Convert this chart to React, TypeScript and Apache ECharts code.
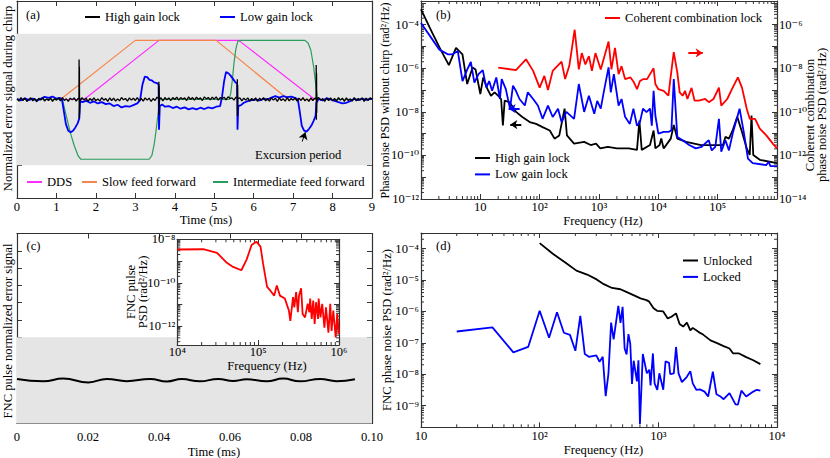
import React, { useEffect, useRef } from "react";
import * as echarts from "echarts";

const FONT = "'Liberation Serif', 'DejaVu Serif', serif";
const FS = 12.6;
const AXIS_COLOR = "#333";

// ---------------- Panel (a): error signal during chirp ----------------
const aTimeRange = [0, 9];
const aValueRange = [-3, 3];
const aBand = [-2, 2];
const aDDS = [[0, 0], [1.7, 0], [3.6, 1.8], [5.62, 1.8], [7.55, 0], [9, 0]];
const aSlowFF = [[0, 0], [1.1, 0], [3.0, 1.8], [5.05, 1.8], [6.88, 0], [9, 0]];
const aInterFF = [
  [0, 0], [1.15, 0], [1.25, -0.5], [1.35, -1.0], [1.45, -1.4], [1.55, -1.72], [1.62, -1.82],
  [3.35, -1.82], [3.42, -1.7], [3.48, -1.35], [3.53, -0.9], [3.58, -0.4], [3.62, 0],
  [5.38, 0], [5.42, 0.2], [5.46, 0.6], [5.5, 1.1], [5.55, 1.55], [5.6, 1.78], [5.65, 1.8],
  [7.3, 1.8], [7.38, 1.72], [7.45, 1.5], [7.52, 1.0], [7.57, 0.5], [7.62, 0], [9, 0],
];
const aHighStep = 0.05;
const aHighNoise = [
  0.02, -0.05, 0.06, -0.03, 0.04, -0.06, 0.01, 0.05, -0.04, 0.03, -0.07, 0.04, -0.02, 0.06, -0.05, 0.02, -0.03, 0.05, -0.06, 0.03,
  -0.02, 0.05, -0.04, 0.06, -0.03, 0.02, -0.06, 0.04, -0.01, 0.05, -0.05, 0.03, -0.04, 0.06, -0.02, 0.04, -0.06, 0.03, -0.03, 0.05,
  -0.04, 0.02, -0.05, 0.06, -0.02, 0.03, -0.06, 0.05, -0.03, 0.04, -0.05, 0.02, -0.04, 0.06, -0.01, 0.03, -0.05, 0.05, -0.02, 0.04,
  -0.03, 0.06, -0.04, 0.03, -0.05, 0.05, -0.02, 0.04, -0.06, 0.03, -0.03, 0.07, -0.02, 0.05, -0.04, 0.06, -0.01, 0.05, -0.03, 0.06,
  0.0, 0.07, -0.02, 0.06, 0.01, 0.05, -0.03, 0.08, 0.0, 0.06, -0.02, 0.07, 0.01, 0.05, -0.03, 0.08, 0.02, 0.06, -0.01, 0.07,
  0.01, 0.08, -0.02, 0.06, 0.02, 0.07, -0.01, 0.08, 0.03, 0.05, -0.02, 0.07, 0.0, 0.05, -0.04, 0.04, -0.02, 0.05, -0.05, 0.03,
  -0.03, 0.05, -0.06, 0.04, -0.02, 0.06, -0.04, 0.03, -0.05, 0.05, -0.02, 0.04, -0.06, 0.05, -0.03, 0.02, -0.05, 0.06, -0.04, 0.03,
  -0.02, 0.05, -0.05, 0.04, -0.03, 0.06, -0.04, 0.02, -0.06, 0.05, -0.03, 0.04, -0.05, 0.06, -0.02, 0.03, -0.06, 0.04, -0.03, 0.05,
  -0.04, 0.03, -0.05, 0.06, -0.02, 0.04, -0.06, 0.05, -0.03, 0.02, -0.05, 0.06, -0.04, 0.03, -0.02, 0.05, -0.06, 0.04, -0.03, 0.05,
  0.02,
];
const aHighSpikes = [
  [1.570, 0.04], [1.574, 1.22], [1.578, -0.58], [1.582, 1.0], [1.586, -0.45], [1.590, 0.05],
  [3.592, 0.03], [3.596, 0.54], [3.600, -0.47], [3.604, 0.4], [3.608, -0.2], [3.612, 0.02],
  [5.582, 0.04], [5.586, 0.62], [5.590, -0.5], [5.594, 0.45], [5.598, -0.3], [5.602, 0.03],
  [7.582, 0.02], [7.586, 1.05], [7.590, -0.62], [7.594, 0.8], [7.598, -0.4], [7.602, 0.01],
];
const aLow = [
  [0.0, 0.02], [0.1, -0.03], [0.2, 0.04], [0.3, -0.02], [0.4, 0.03], [0.5, -0.04], [0.6, 0.02], [0.7, 0.08], [0.8, 0.05], [0.9, 0.09],
  [1.0, 0.03], [1.08, 0.05], [1.14, 0.0], [1.18, -0.3], [1.24, -0.75], [1.3, -0.95], [1.36, -1.0], [1.42, -0.95], [1.48, -0.85], [1.54, -0.72],
  [1.58, -0.57], [1.6, -0.05], [1.66, -0.08], [1.75, -0.04], [1.85, -0.1], [1.95, -0.06], [2.05, -0.12], [2.15, -0.08], [2.25, -0.14], [2.35, -0.12],
  [2.45, -0.2], [2.55, -0.16], [2.65, -0.24], [2.75, -0.2], [2.85, -0.22], [2.95, -0.17], [3.05, -0.12], [3.12, -0.02], [3.18, 0.45], [3.24, 0.7],
  [3.3, 0.68], [3.36, 0.6], [3.42, 0.58], [3.48, 0.52], [3.55, 0.5], [3.59, 0.45], [3.6, -0.92], [3.62, -0.2], [3.68, -0.15], [3.75, -0.22],
  [3.85, -0.2], [3.95, -0.26], [4.05, -0.22], [4.15, -0.28], [4.25, -0.24], [4.35, -0.3], [4.45, -0.26], [4.55, -0.3], [4.65, -0.25], [4.75, -0.29],
  [4.85, -0.24], [4.95, -0.27], [5.05, -0.22], [5.15, -0.2], [5.2, 0.1], [5.25, 0.55], [5.3, 0.84], [5.36, 0.8], [5.42, 0.72], [5.48, 0.62],
  [5.54, 0.52], [5.58, 0.48], [5.59, -0.92], [5.61, -0.2], [5.68, -0.17], [5.75, -0.1], [5.85, -0.05], [5.95, -0.02], [6.05, 0.0], [6.15, -0.03],
  [6.25, 0.02], [6.35, 0.0], [6.45, 0.06], [6.55, 0.1], [6.65, 0.06], [6.75, 0.1], [6.85, 0.07], [6.95, 0.09], [7.05, 0.05], [7.12, 0.0],
  [7.16, -0.3], [7.22, -0.8], [7.28, -0.95], [7.34, -0.98], [7.4, -0.9], [7.46, -0.8], [7.52, -0.65], [7.57, -0.5], [7.59, -0.1], [7.65, 0.02],
  [7.75, -0.03], [7.85, 0.04], [7.95, 0.0], [8.05, -0.04], [8.15, -0.08], [8.25, -0.12], [8.35, -0.1], [8.45, -0.05], [8.55, 0.02], [8.65, -0.02],
  [8.75, 0.03], [8.85, -0.01], [8.95, 0.02], [9.0, 0.01],
];
const aExcursionArrow = [[7.23, -1.28], [7.31, -1.0]];

// ---------------- Panel (b): PSD without chirp ----------------
const bFreqRange = [1, 1e6];
const bLeftRange = [1e-12, 1.23e-3];
const bRightRange = [1e-14, 1.23e-5];
const bHigh = [
  [1, 5.1e-4], [1.55, 4.2e-5], [2.14, 7.2e-6], [2.95, 1.4e-6], [3.89, 8.7e-6], [5.0, 4.4e-6], [6.0, 1.9e-7], [7.4, 1.1e-6],
  [8.3, 8.9e-7], [10, 6.6e-8], [11.2, 3.8e-7], [13.2, 1.1e-7], [15.1, 5.5e-8], [17.4, 7.9e-8], [20, 5.5e-8], [22.4, 3.9e-8],
  [24, 2.4e-9], [25.7, 3.3e-8], [31, 2.8e-8], [40, 1.0e-8], [51, 5.8e-9], [68, 3.4e-9], [87, 2.8e-9], [112, 2.0e-9],
  [148, 1.4e-9], [178, 5.9e-10], [214, 8.3e-10], [263, 1.4e-8], [288, 8.3e-10], [380, 3.5e-10], [562, 4.2e-10], [724, 3.0e-10],
  [891, 3.5e-10], [1050, 2.1e-10], [1410, 2.5e-10], [2000, 2.1e-10], [3160, 2.1e-10], [4370, 1.8e-10], [4790, 4.0e-9], [5250, 1.8e-10],
  [7240, 3.0e-10], [8320, 1.4e-9], [8910, 2.1e-10], [10500, 3.0e-10], [11200, 6.0e-10], [12300, 2.1e-10], [14800, 4.2e-10], [16200, 5.9e-10],
  [18200, 2.5e-9], [20900, 5.9e-10], [29500, 4.2e-10], [52500, 3.0e-10], [89100, 3.0e-10], [123000, 3.0e-10], [135000, 7.1e-10], [155000, 5.9e-10],
  [180000, 1.5e-9], [214000, 5.9e-9], [257000, 1.2e-9], [309000, 2.1e-10], [347000, 1.05e-10], [372000, 6.8e-9], [398000, 1.05e-10], [513000, 6.3e-11],
  [1000000, 4.4e-11],
];
const bLow = [
  [1, 1.2e-4], [2.04, 7.2e-6], [2.82, 4.4e-6], [3.39, 4.4e-6], [4.17, 6.2e-6], [5.01, 2.6e-7], [6.03, 8.9e-7], [6.92, 1.95e-6],
  [7.94, 2.2e-7], [9.33, 5.4e-7], [11, 8.3e-7], [12.6, 1.3e-7], [14.1, 2.6e-7], [15.8, 9.3e-8], [18.6, 3.8e-7], [21.4, 3.9e-8],
  [22.9, 3.2e-7], [26.9, 1.1e-7], [31.6, 1.4e-8], [35.5, 1.6e-7], [39.8, 9.3e-8], [45.7, 3.9e-8], [56.2, 1.95e-8], [63.1, 7.9e-8],
  [77.6, 3.9e-8], [93.3, 1.95e-8], [112, 4.8e-9], [138, 1.95e-8], [166, 5.8e-9], [204, 1.4e-8], [234, 3.4e-9], [282, 1.0e-8],
  [380, 4.8e-9], [457, 1.9e-7], [562, 1.0e-8], [676, 5.5e-8], [832, 8.1e-9], [933, 3.2e-8], [1070, 1.4e-8], [1200, 7.9e-8],
  [1450, 1.1e-6], [1580, 7.9e-8], [1780, 5.4e-7], [2140, 1.95e-8], [2400, 3.9e-8], [2750, 5.9e-9], [3310, 2.8e-9], [3800, 1.4e-8],
  [4370, 2.3e-9], [4900, 3.4e-9], [5500, 1.4e-8], [6310, 9.8e-9], [7240, 1.4e-8], [7760, 2.3e-9], [8320, 9.3e-8], [8910, 6.8e-9],
  [10000, 1.0e-9], [12300, 1.2e-9], [14800, 1.2e-9], [16600, 1.4e-9], [18200, 3.2e-7], [20900, 7.1e-10], [25700, 5.0e-10], [33100, 3.0e-10],
  [42700, 2.1e-10], [53700, 2.5e-10], [70800, 5.0e-10], [79400, 1.7e-10], [91200, 2.5e-10], [105000, 4.8e-9], [115000, 1.5e-10], [135000, 5.0e-10],
  [155000, 1.7e-10], [182000, 1.2e-9], [234000, 1.4e-8], [275000, 1.2e-9], [324000, 7.2e-11], [389000, 4.4e-11], [661000, 3.6e-11], [724000, 5.1e-11],
  [776000, 3.2e-11], [1000000, 3.2e-11],
];
const bCoherent = [
  [20, 1.07e-8], [39.8, 8.3e-9], [58.9, 2.6e-8], [77.6, 7.6e-9], [100, 1.3e-9], [120, 4.5e-9], [138, 1.0e-9], [166, 7.6e-9],
  [234, 2.0e-8], [269, 3.2e-9], [316, 1.3e-8], [389, 5.9e-7], [457, 8.9e-9], [513, 5.0e-8], [589, 1.5e-8], [676, 3.6e-8],
  [759, 7.6e-9], [871, 5.0e-8], [1070, 8.9e-9], [1450, 1.7e-7], [1620, 8.9e-9], [1860, 8.7e-8], [2140, 5.4e-9], [2400, 1.26e-8],
  [2750, 3.2e-9], [3390, 3.8e-9], [3800, 2.5e-9], [4370, 1.1e-9], [4900, 2.6e-9], [5620, 3.2e-9], [6460, 3.2e-9], [7240, 5.4e-9],
  [8320, 1.0e-8], [8910, 1.9e-9], [10000, 1.1e-9], [12300, 9.3e-10], [14800, 5.5e-10], [16200, 4.5e-9], [18200, 5.5e-8], [20900, 6.3e-9],
  [22900, 7.9e-10], [25700, 5.5e-10], [28200, 9.3e-10], [30900, 3.9e-10], [36300, 1.26e-9], [40700, 3.3e-10], [47900, 3.3e-10], [61700, 3.9e-10],
  [70800, 2.8e-10], [85100, 3.9e-10], [105000, 1.3e-9], [115000, 1.95e-10], [145000, 3.9e-10], [174000, 1.1e-9], [219000, 3.8e-9], [257000, 1.3e-9],
  [309000, 1.4e-10], [347000, 4.8e-11], [427000, 4.8e-11], [513000, 1.7e-11], [661000, 8.3e-12], [851000, 3.5e-12], [1000000, 2.1e-12],
];
const bRedArrow = [[3.2e4, 5.1e-8], [5.6e4, 5.1e-8]];
const bBlackArrow = [[49, 2.6e-9], [32, 2.6e-9]];
const bBlueArrow = [[46, 1.4e-8], [30, 1.4e-8]];

// ---------------- Panel (c): FNC pulse error signal ----------------
const cTimeRange = [0, 0.1];
const cValueRange = [0, 11];
const cBand = [0, 5];
const cError = [
  [0, 2.58], [0.0074, 2.44], [0.013, 2.6], [0.0201, 2.38], [0.0253, 2.58], [0.0309, 2.45], [0.0375, 2.58], [0.0422, 2.43],
  [0.0464, 2.57], [0.0515, 2.44], [0.0567, 2.58], [0.0609, 2.46], [0.0647, 2.56], [0.0703, 2.44], [0.075, 2.6], [0.0797, 2.44],
  [0.0854, 2.58], [0.09, 2.45], [0.0952, 2.56],
];
// inset
const insetFreqRange = [1e4, 1e6];
const insetPsdRange = [1.41e-13, 1e-8];
const insetPsd = [
  [1.0e4, 3.4e-9], [2.1e4, 3.5e-9], [3.1e4, 2.4e-9], [4.1e4, 8.3e-10], [4.9e4, 5.4e-10], [6.2e4, 3.8e-10], [7.2e4, 1.17e-9], [8.3e4, 5.5e-9],
  [9.5e4, 7.8e-9], [1.07e5, 4.6e-9], [1.15e5, 7.8e-10], [1.29e5, 6.5e-11], [1.41e5, 4.5e-11], [1.58e5, 2.6e-11], [1.7e5, 7.6e-11], [1.86e5, 2.6e-11],
  [2.14e5, 1.9e-11], [2.4e5, 5.4e-12], [2.5e5, 1.8e-12], [2.7e5, 2.2e-11], [2.8e5, 7.6e-12], [2.95e5, 3.8e-11], [3.1e5, 4.5e-12], [3.2e5, 2.6e-11],
  [3.4e5, 5.6e-11], [3.55e5, 3.7e-12], [3.8e5, 2.6e-12], [4.1e5, 1.1e-11], [4.3e5, 4.5e-12], [4.4e5, 1.9e-11], [4.6e5, 2.2e-12], [4.8e5, 1.55e-11],
  [5.0e5, 1.3e-12], [5.2e5, 1.3e-11], [5.5e5, 2.2e-12], [5.6e5, 1.9e-11], [5.9e5, 2.6e-12], [6.2e5, 1.1e-11], [6.6e5, 8.9e-13], [6.9e5, 7.6e-12],
  [7.4e5, 5.2e-13], [7.8e5, 1.1e-11], [8.1e5, 6.3e-13], [8.5e5, 5.4e-12], [9.1e5, 3.1e-13], [9.5e5, 3.7e-12], [1.0e6, 4.5e-13],
];

// ---------------- Panel (d): FNC phase noise ----------------
const dFreqRange = [10, 1e4];
const dPsdRange = [2.04e-10, 3.16e-4];
const dUnlocked = [
  [100, 1.5e-4], [129, 6.9e-5], [170, 3.3e-5], [204, 2.0e-5], [251, 1.5e-5], [302, 1.05e-5], [347, 7.4e-6], [407, 5.6e-6],
  [479, 5.1e-6], [537, 4.2e-6], [617, 3.3e-6], [708, 2.6e-6], [794, 2.3e-6], [832, 2.1e-6], [912, 1.26e-6], [977, 1.05e-6],
  [1100, 1.0e-6], [1200, 6.0e-7], [1290, 6.8e-7], [1410, 8.7e-7], [1510, 4.0e-7], [1620, 3.3e-7], [1740, 4.4e-7], [1860, 2.5e-7],
  [1950, 3.0e-7], [2190, 2.2e-7], [2400, 1.8e-7], [2750, 1.2e-7], [3090, 1.0e-7], [3550, 7.9e-8], [3980, 6.6e-8], [4270, 4.6e-8],
  [4790, 4.6e-8], [5500, 3.5e-8], [6310, 2.8e-8], [7240, 2.1e-8],
];
const dLocked = [
  [20, 2.3e-7], [40, 3.1e-7], [60, 5.0e-8], [80, 7.4e-8], [100, 1.05e-6], [120, 1.45e-7], [140, 9.5e-7], [160, 2.1e-7],
  [180, 1.8e-7], [200, 5.6e-8], [220, 7.2e-7], [240, 4.4e-8], [260, 3.6e-8], [300, 4.0e-8], [320, 2.5e-8], [340, 3.6e-8],
  [360, 2.0e-9], [380, 1.07e-8], [400, 4.4e-7], [420, 1.3e-7], [460, 1.5e-6], [480, 4.3e-7], [500, 1.4e-6], [520, 6.6e-8],
  [540, 4.3e-8], [560, 1.9e-7], [580, 9.5e-8], [600, 4.9e-9], [620, 2.7e-8], [660, 5.9e-9], [680, 2.8e-8], [700, 2.6e-10],
  [740, 4.4e-8], [800, 1.07e-8], [840, 1.4e-8], [860, 4.4e-9], [900, 4.6e-8], [930, 5.1e-9], [980, 3.2e-9], [1020, 1.07e-8],
  [1100, 3.2e-9], [1150, 2.6e-8], [1230, 2.3e-8], [1260, 1.0e-8], [1350, 1.07e-8], [1410, 7.4e-8], [1480, 1.07e-8], [1580, 5.6e-9],
  [1740, 8.3e-9], [1860, 1.26e-8], [1950, 5.1e-9], [2090, 3.2e-9], [2240, 3.3e-9], [2450, 2.8e-9], [2630, 1.95e-9], [2880, 1.2e-8],
  [3090, 2.3e-9], [3310, 2.0e-9], [3550, 1.6e-9], [3980, 2.5e-9], [4470, 1.1e-9], [4680, 1.07e-9], [5010, 3.0e-9], [5500, 1.95e-9],
  [6310, 2.8e-9], [6760, 3.2e-9], [7240, 3.0e-9],
];

// ---------------- helpers ----------------
const SUP: Record<string, string> = { "-": "\u207B", "0": "\u2070", "1": "\u00B9", "2": "\u00B2", "3": "\u00B3", "4": "\u2074", "5": "\u2075", "6": "\u2076", "7": "\u2077", "8": "\u2078", "9": "\u2079" };
function sup(n: number) {
  return String(n).split("").map((c) => SUP[c]).join("");
}
function logLabel(filter: (e: number) => boolean) {
  return (v: number) => {
    const e = Math.log10(v);
    const r = Math.round(e);
    if (Math.abs(e - r) > 1e-4 || !filter(r)) return "";
    return r === 1 ? "10" : "10" + sup(r);
  };
}
function logMinor(lo: number, hi: number) {
  const out: number[] = [];
  const k0 = Math.floor(Math.log10(lo));
  const k1 = Math.ceil(Math.log10(hi));
  for (let k = k0; k <= k1; k++) {
    for (let m = 2; m <= 9; m++) {
      const v = m * Math.pow(10, k);
      if (v > lo && v < hi) out.push(v);
    }
  }
  return out;
}

const labelStyle = { fontFamily: FONT, fontSize: FS, color: "#000" };
const lineAx = { show: true, onZero: false, lineStyle: { color: AXIS_COLOR, width: 1.2 } };
const tickAx = { show: true, inside: true, length: 5, lineStyle: { color: AXIS_COLOR, width: 1 } };

function valueAxis(gridIndex: number, position: string, range: number[], interval: number, label: any, z = 0) {
  return {
    type: "value", gridIndex, position, min: range[0], max: range[1], interval, z,
    axisLine: lineAx, axisTick: tickAx, splitLine: { show: false },
    axisLabel: label ? { show: true, ...labelStyle, ...label } : { show: false },
  };
}
function logAxis(gridIndex: number, position: string, range: number[], label: any, z = 0) {
  return {
    type: "log", logBase: 10, gridIndex, position, min: range[0], max: range[1], z,
    axisLine: lineAx, axisTick: tickAx, splitLine: { show: false }, minorTick: { show: false },
    axisLabel: label ? { show: true, ...labelStyle, ...label } : { show: false },
  };
}

function minorTicksX(xi: number, yi: number, values: number[], yRef: number, z = 3) {
  return {
    type: "custom", xAxisIndex: xi, yAxisIndex: yi, silent: true, z, clip: false,
    data: values.map((v) => [v, yRef]),
    renderItem: (params: any, api: any) => {
      const cs = params.coordSys;
      const x = api.coord([api.value(0), api.value(1)])[0];
      const b = cs.y + cs.height;
      const t = cs.y;
      const st = { stroke: AXIS_COLOR, lineWidth: 1 };
      return {
        type: "group",
        children: [
          { type: "line", shape: { x1: x, y1: b, x2: x, y2: b - 3 }, style: st },
          { type: "line", shape: { x1: x, y1: t, x2: x, y2: t + 3 }, style: st },
        ],
      };
    },
  };
}
function minorTicksY(xi: number, yi: number, values: number[], xRef: number, z = 3) {
  return {
    type: "custom", xAxisIndex: xi, yAxisIndex: yi, silent: true, z, clip: false,
    data: values.map((v) => [xRef, v]),
    renderItem: (params: any, api: any) => {
      const cs = params.coordSys;
      const y = api.coord([api.value(0), api.value(1)])[1];
      const l = cs.x;
      const r = cs.x + cs.width;
      const st = { stroke: AXIS_COLOR, lineWidth: 1 };
      return {
        type: "group",
        children: [
          { type: "line", shape: { x1: l, y1: y, x2: l + 3, y2: y }, style: st },
          { type: "line", shape: { x1: r, y1: y, x2: r - 3, y2: y }, style: st },
        ],
      };
    },
  };
}

function lineSeries(name: string, xi: number, yi: number, data: any[], color: string, width: number, extra: any = {}) {
  return {
    name, type: "line", xAxisIndex: xi, yAxisIndex: yi, data, symbol: "none", showSymbol: false,
    lineStyle: { color, width }, itemStyle: { color }, emphasis: { disabled: true }, silent: true,
    ...extra,
  };
}
function arrow(coords: number[][], color: string, width: number) {
  return {
    silent: true, symbol: ["none", "arrow"], symbolSize: 7, label: { show: false },
    lineStyle: { color, width, type: "solid" }, emphasis: { disabled: true },
    data: [[{ coord: coords[0] }, { coord: coords[1] }]],
  };
}

function text(t: string, x: number, y: number, align = "center", rot = 0, extra: any = {}) {
  return {
    type: "text", x, y, rotation: rot, silent: true, z: 100,
    style: { text: t, fill: "#000", fontFamily: FONT, fontSize: FS, align, verticalAlign: "middle", ...extra },
  };
}

function buildOption() {
  const aHigh = [
    ...aHighNoise.map((v, i) => [Math.round(i * aHighStep * 1000) / 1000, v]),
    ...aHighSpikes,
  ].sort((p, q) => p[0] - q[0]);

  const legendBase = {
    padding: 0, itemWidth: 15, itemHeight: 2, icon: "rect", selectedMode: false,
    textStyle: { fontFamily: FONT, fontSize: FS, color: "#000" },
  };

  const R = 2;
  return {
    animation: false,
    backgroundColor: "#fff",
    textStyle: { fontFamily: FONT },
    grid: [
      { left: 17, top: 1, width: 355, height: 197, outerBoundsMode: "none" },
      { left: 421, top: 1, width: 356, height: 198, outerBoundsMode: "none" },
      { left: 17, top: 233.5, width: 355, height: 190, outerBoundsMode: "none" },
      { left: 421, top: 233, width: 356, height: 194.3, outerBoundsMode: "none" },
      { left: 177.3, top: 239.3, width: 161.7, height: 105.7, show: true, backgroundColor: "#fff", borderWidth: 0, z: 10, outerBoundsMode: "none" },
    ],
    xAxis: [
      valueAxis(0, "bottom", aTimeRange, 1, { margin: 2, formatter: (v: number) => String(v) }),
      valueAxis(0, "top", aTimeRange, 1, null),
      logAxis(1, "bottom", bFreqRange, { margin: 1, formatter: logLabel((e) => e >= 1 && e <= 5) }),
      logAxis(1, "top", bFreqRange, null),
      valueAxis(2, "bottom", cTimeRange, 0.02, { margin: 7, formatter: (v: number) => (v === 0 ? "0" : v.toFixed(2)) }),
      valueAxis(2, "top", cTimeRange, 0.02, null),
      logAxis(3, "bottom", dFreqRange, { margin: 2, formatter: logLabel(() => true) }),
      logAxis(3, "top", dFreqRange, null),
      logAxis(4, "bottom", insetFreqRange, { margin: 0, formatter: logLabel(() => true) }, 12),
      logAxis(4, "top", insetFreqRange, null, 12),
    ],
    yAxis: [
      valueAxis(0, "left", aValueRange, 1, null),
      valueAxis(0, "right", aValueRange, 1, null),
      logAxis(1, "left", bLeftRange, { margin: R, formatter: logLabel((e) => e % 2 === 0) }),
      logAxis(1, "right", bRightRange, { margin: R, formatter: logLabel((e) => e % 2 === 0) }),
      valueAxis(2, "left", cValueRange, 1, null),
      valueAxis(2, "right", cValueRange, 1, null),
      logAxis(3, "left", dPsdRange, { margin: R, formatter: logLabel(() => true) }),
      logAxis(3, "right", dPsdRange, null),
      logAxis(4, "left", insetPsdRange, { margin: R, formatter: logLabel((e) => e % 2 === 0) }, 12),
      logAxis(4, "right", insetPsdRange, null, 12),
    ],
    legend: [
      { ...legendBase, data: ["High gain lock"], left: 85, top: 10.5 },
      { ...legendBase, data: ["Low gain lock"], left: 220, top: 10.5 },
      { ...legendBase, data: ["DDS"], left: 27, top: 175.5 },
      { ...legendBase, data: ["Slow feed forward"], left: 82, top: 175.5 },
      { ...legendBase, data: ["Intermediate feed forward"], left: 213, top: 175.5 },
      { ...legendBase, data: ["Coherent combination lock"], left: 605, top: 11.5 },
      { ...legendBase, data: ["High gain lock", "Low gain lock"], left: 475, top: 151.5, orient: "vertical", itemGap: 3.4 },
      { ...legendBase, data: ["Unlocked", "Locked"], left: 683, top: 254, orient: "vertical", itemGap: 3.4 },
    ],
    series: [
      // (a)
      lineSeries("DDS", 0, 0, aDDS, "#ff2bff", 1.2, {
        markArea: {
          silent: true, itemStyle: { color: "#e5e5e5" },
          data: [[{ coord: [aTimeRange[0], aBand[0]] }, { coord: [aTimeRange[1], aBand[1]] }]],
        },
      }),
      lineSeries("Slow feed forward", 0, 0, aSlowFF, "#f7844a", 1.2),
      lineSeries("Intermediate feed forward", 0, 0, aInterFF, "#2a9d5c", 1.2),
      lineSeries("Low gain lock", 0, 0, aLow, "#0000ff", 1.8, { markLine: arrow(aExcursionArrow, "#000", 1) }),
      lineSeries("High gain lock", 0, 0, aHigh, "#000000", 1.3),
      // (b)
      lineSeries("High gain lock", 2, 2, bHigh, "#000000", 1.8, { markLine: arrow(bBlackArrow, "#000", 2) }),
      lineSeries("Low gain lock", 2, 2, bLow, "#0000ff", 1.8, { markLine: arrow(bBlueArrow, "#0000ff", 2) }),
      lineSeries("Coherent combination lock", 2, 3, bCoherent, "#ff0000", 1.8, { markLine: arrow(bRedArrow, "#ff0000", 2) }),
      minorTicksX(2, 2, logMinor(bFreqRange[0], bFreqRange[1]), bLeftRange[0]),
      minorTicksY(2, 2, logMinor(bLeftRange[0], bLeftRange[1]), bFreqRange[0]),
      // (c)
      lineSeries("FNC pulse error signal", 4, 4, cError, "#000000", 2, {
        smooth: true,
        markArea: {
          silent: true, itemStyle: { color: "#e5e5e5" },
          data: [[{ coord: [cTimeRange[0], cBand[0]] }, { coord: [cTimeRange[1], cBand[1]] }]],
        },
      }),
      // inset
      lineSeries("FNC pulse PSD", 8, 8, insetPsd, "#ff0000", 1.8, { z: 12 }),
      minorTicksX(8, 8, logMinor(insetFreqRange[0], insetFreqRange[1]), insetPsdRange[0], 12),
      minorTicksY(8, 8, logMinor(insetPsdRange[0], insetPsdRange[1]), insetFreqRange[0], 12),
      // (d)
      lineSeries("Unlocked", 6, 6, dUnlocked, "#000000", 1.8),
      lineSeries("Locked", 6, 6, dLocked, "#0000ff", 1.8),
      minorTicksX(6, 6, logMinor(dFreqRange[0], dFreqRange[1]), dPsdRange[0]),
      minorTicksY(6, 6, logMinor(dPsdRange[0], dPsdRange[1]), dFreqRange[0]),
    ],
    graphic: {
      elements: [
        text("(a)", 26, 15, "left"),
        text("(b)", 436, 14.5, "left"),
        text("(c)", 26.5, 246, "left"),
        text("(d)", 436, 246, "left"),
        text("Excursion period", 255, 155, "left"),
        text("Normalized error signal during chirp", 8, 98.5, "center", Math.PI / 2),
        text("Time (ms)", 206, 220),
        text("Phase noise PSD without chirp (rad\u00B2/Hz)", 385, 100.5, "center", Math.PI / 2, { fontSize: 12 }),
        text("Coherent combination\nphase noise PSD (rad\u00B2/Hz)", 816, 115, "center", Math.PI / 2, { lineHeight: 12 }),
        text("Frequency (Hz)", 603, 221),
        text("FNC pulse normalized error signal", 8, 331, "center", Math.PI / 2),
        text("Time (ms)", 214, 452),
        text("FNC pulse\nPSD (rad\u00B2/Hz)", 137, 292, "center", Math.PI / 2, { lineHeight: 12 }),
        text("Frequency (Hz)", 267, 366),
        text("FNC phase noise PSD (rad\u00B2/Hz)", 387, 330, "center", Math.PI / 2),
        text("Frequency (Hz)", 603.5, 449.5),
      ],
    },
  };
}

export default function App() {
  const ref = useRef<HTMLDivElement>(null);
  useEffect(() => {
    if (!ref.current) return;
    const chart = echarts.init(ref.current, null, { renderer: "svg" });
    chart.setOption(buildOption() as any);
    return () => chart.dispose();
  }, []);
  return (
    <div
      ref={ref}
      style={{ position: "fixed", left: 0, top: 0, width: 830, height: 458, background: "#fff" }}
    />
  );
}
